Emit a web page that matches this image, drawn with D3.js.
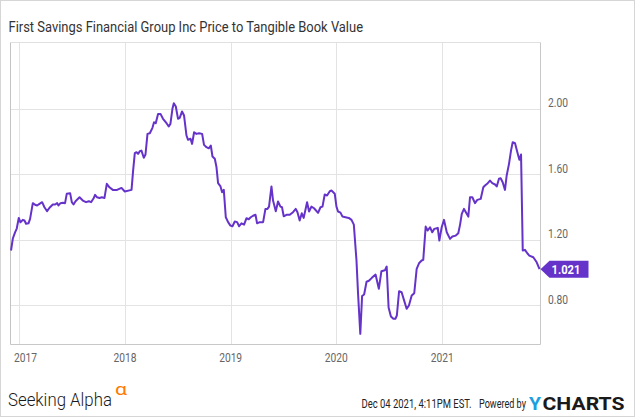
<!DOCTYPE html>
<html><head><meta charset="utf-8">
<script src="https://cdn.jsdelivr.net/npm/d3@7"></script>
<style>
html,body{margin:0;padding:0;background:#fff;}
svg{display:block;font-family:Roboto,"Noto Sans",sans-serif;}
</style></head>
<body><svg id="c" width="635" height="417"></svg>
<script>
// time as decimal years
const times = [2016.922,2016.939,2016.960,2016.976,2016.995,2017.011,2017.033,2017.049,2017.064,2017.087,2017.102,2017.128,2017.149,2017.168,2017.191,2017.216,2017.238,2017.263,2017.286,2017.317,2017.339,2017.358,2017.371,2017.390,2017.412,2017.433,2017.449,2017.481,2017.497,2017.513,2017.532,2017.570,2017.601,2017.632,2017.658,2017.679,2017.705,2017.717,2017.736,2017.759,2017.781,2017.806,2017.828,2017.853,2017.885,2017.925,2017.967,2017.998,2018.062,2018.077,2018.093,2018.109,2018.124,2018.140,2018.156,2018.178,2018.194,2018.213,2018.235,2018.260,2018.275,2018.291,2018.313,2018.336,2018.360,2018.393,2018.414,2018.430,2018.449,2018.462,2018.481,2018.502,2018.518,2018.540,2018.559,2018.582,2018.597,2018.620,2018.635,2018.654,2018.676,2018.701,2018.730,2018.748,2018.771,2018.793,2018.812,2018.828,2018.850,2018.866,2018.881,2018.904,2018.919,2018.935,2018.954,2018.976,2018.998,2019.017,2019.039,2019.061,2019.080,2019.102,2019.127,2019.150,2019.171,2019.190,2019.212,2019.235,2019.250,2019.275,2019.307,2019.329,2019.348,2019.363,2019.386,2019.401,2019.427,2019.448,2019.471,2019.486,2019.502,2019.528,2019.559,2019.590,2019.616,2019.632,2019.653,2019.673,2019.691,2019.723,2019.742,2019.764,2019.789,2019.827,2019.850,2019.869,2019.890,2019.912,2019.938,2019.954,2019.985,2020.001,2020.016,2020.039,2020.058,2020.086,2020.117,2020.143,2020.165,2020.190,2020.205,2020.226,2020.243,2020.262,2020.285,2020.307,2020.335,2020.370,2020.401,2020.425,2020.458,2020.475,2020.493,2020.515,2020.538,2020.557,2020.571,2020.592,2020.616,2020.640,2020.663,2020.685,2020.711,2020.735,2020.758,2020.780,2020.805,2020.820,2020.843,2020.862,2020.884,2020.905,2020.924,2020.957,2020.972,2020.994,2021.016,2021.042,2021.073,2021.095,2021.127,2021.151,2021.168,2021.184,2021.205,2021.231,2021.246,2021.262,2021.284,2021.309,2021.331,2021.363,2021.388,2021.404,2021.430,2021.451,2021.473,2021.499,2021.515,2021.536,2021.552,2021.571,2021.593,2021.609,2021.631,2021.650,2021.666,2021.688,2021.710,2021.729,2021.745,2021.761,2021.782,2021.804,2021.823,2021.861,2021.893,2021.920];
const ptbv = [1.135,1.208,1.246,1.269,1.334,1.307,1.322,1.318,1.298,1.301,1.328,1.424,1.414,1.410,1.420,1.430,1.399,1.375,1.396,1.416,1.416,1.424,1.410,1.424,1.426,1.424,1.481,1.485,1.430,1.416,1.436,1.460,1.440,1.430,1.436,1.430,1.456,1.475,1.460,1.456,1.460,1.456,1.542,1.521,1.505,1.505,1.517,1.495,1.505,1.623,1.729,1.735,1.725,1.741,1.745,1.701,1.721,1.847,1.851,1.884,1.918,1.912,1.969,1.969,1.939,1.912,1.892,1.908,2.000,2.034,2.014,1.939,1.945,1.984,1.959,1.837,1.811,1.817,1.786,1.857,1.847,1.851,1.847,1.780,1.766,1.759,1.776,1.709,1.695,1.643,1.546,1.526,1.491,1.505,1.338,1.308,1.287,1.283,1.312,1.308,1.283,1.301,1.293,1.332,1.326,1.338,1.347,1.353,1.301,1.308,1.308,1.389,1.389,1.403,1.526,1.440,1.375,1.434,1.403,1.399,1.344,1.353,1.353,1.369,1.389,1.369,1.318,1.362,1.334,1.430,1.373,1.403,1.393,1.365,1.399,1.403,1.477,1.471,1.497,1.501,1.481,1.403,1.373,1.366,1.342,1.338,1.334,1.322,1.293,1.074,0.870,0.626,0.857,0.866,0.944,0.950,0.968,0.988,0.901,1.008,1.014,1.037,0.787,0.732,0.718,0.718,0.738,0.886,0.880,0.829,0.779,0.799,0.860,0.874,1.023,1.057,1.074,1.078,1.281,1.257,1.277,1.246,1.267,1.273,1.196,1.277,1.322,1.246,1.206,1.220,1.226,1.240,1.293,1.359,1.389,1.359,1.342,1.460,1.460,1.424,1.444,1.450,1.521,1.532,1.546,1.562,1.546,1.538,1.526,1.573,1.576,1.552,1.505,1.593,1.664,1.745,1.796,1.790,1.735,1.689,1.721,1.135,1.139,1.118,1.104,1.094,1.063,1.021];
const yTicks = [0.8, 1.2, 1.6, 2.0];
const xTickYears = [2017, 2018, 2019, 2020, 2021];
const lastLabel = "1.021";
const title = "First Savings Financial Group Inc Price to Tangible Book Value";
const stamp = "Dec 04 2021, 4:11PM EST.";

function decToDate(t){
  const y = Math.floor(t);
  const a = Date.UTC(y,0,1), b = Date.UTC(y+1,0,1);
  return new Date(a + (t - y) * (b - a));
}
const data = times.map((t,i)=>({d:decToDate(t), v:ptbv[i]}));

const svg = d3.select("#c");
const L = 10.5, R = 540.5, T = 42.5, B = 344.5;
const purple = "#6533c9";

// text squeezed horizontally to a target width (condensed look), with a true bbox
function squeezed(parent, txt, x, y, width, attrs, anchor){
  const gg = parent.append("g");
  const t = gg.append("text").attr("x",0).attr("y",0).text(txt);
  Object.entries(attrs).forEach(([k,v])=>t.attr(k,v));
  const w = t.node().getComputedTextLength();
  const s = width / w;
  let x0 = x;
  if (anchor === "middle") x0 = x - width/2;
  gg.attr("transform",`translate(${x0},${y}) scale(${s},1)`);
  return gg;
}

svg.append("rect").attr("x",0.5).attr("y",0.5).attr("width",634).attr("height",416)
  .attr("fill","#fff").attr("stroke","#d6d6d6");

const x = d3.scaleUtc().domain([decToDate(2016.917), decToDate(2021.929)]).range([L, R]);
const y = d3.scaleLinear().domain([0.561, 2.405]).range([B, T]);

// gridlines
const g = svg.append("g");
g.selectAll(".hg").data(yTicks).join("line")
  .attr("x1",L).attr("x2",R)
  .attr("y1",d=>Math.round(y(d))+0.5).attr("y2",d=>Math.round(y(d))+0.5)
  .attr("stroke","#e3e3e3");
const yearDates = xTickYears.map(yr=>new Date(Date.UTC(yr,0,1)));
g.selectAll(".vg").data(yearDates).join("line")
  .attr("x1",d=>Math.round(x(d))+0.5).attr("x2",d=>Math.round(x(d))+0.5)
  .attr("y1",T).attr("y2",B)
  .attr("stroke","#e3e3e3");

// frame
svg.append("line").attr("x1",L).attr("x2",R).attr("y1",T).attr("y2",T).attr("stroke","#e0e0e0");
svg.append("line").attr("x1",L).attr("x2",L).attr("y1",T).attr("y2",B).attr("stroke","#c4c4c4");
svg.append("line").attr("x1",R).attr("x2",R).attr("y1",T).attr("y2",B).attr("stroke","#c8c8c8");
svg.append("line").attr("x1",L).attr("x2",R).attr("y1",B).attr("y2",B).attr("stroke","#c8c8c8");

// y labels
yTicks.forEach(d=>{
  squeezed(svg, d.toFixed(2), 548, y(d)-1.5, 20, {"font-size":12, fill:"#666"});
});

// x labels
yearDates.forEach(d=>{
  squeezed(svg, d3.utcFormat("%Y")(d), Math.max(x(d), L + 15), 361.5, 23,
    {"font-size":12, fill:"#666"}, "middle");
});

// line
svg.append("path").datum(data)
  .attr("fill","none").attr("stroke",purple).attr("stroke-width",2)
  .attr("stroke-linejoin","round")
  .attr("d", d3.line().x(d=>x(d.d)).y(d=>y(d.v)));

// last value label
const last = data[data.length-1];
const ly = y(last.v);
const lx = R;
svg.append("path")
  .attr("d",`M${lx},${ly} L${lx+9},${ly-8.5} L${lx+48},${ly-8.5} L${lx+48},${ly+8.5} L${lx+9},${ly+8.5} Z`)
  .attr("fill",purple);
squeezed(svg, lastLabel, lx+11, ly+4.5, 29, {"font-size":12.5, "font-weight":700, fill:"#fff"});

// title
squeezed(svg, title, 8.5, 31.5, 355, {"font-size":14, fill:"#333"});

// footer
squeezed(svg, "Seeking Alpha", 8, 406, 104, {"font-size":19, "font-weight":300, fill:"#1a1a1a"});
squeezed(svg, "α", 115, 395, 12, {"font-size":16, fill:"#ff7a00"});
squeezed(svg, stamp, 361.5, 408, 110, {"font-size":12, fill:"#222"});
squeezed(svg, "Powered by", 479, 408, 47, {"font-size":12, fill:"#222"});
squeezed(svg, "Y", 529, 410, 12, {"font-size":18.5, "font-weight":700, fill:"#1c9ee0"});
squeezed(svg, "CHARTS", 542.5, 410, 82, {"font-size":18.5, "font-weight":700, fill:"#1a1a1a"});
</script>
</body></html>
